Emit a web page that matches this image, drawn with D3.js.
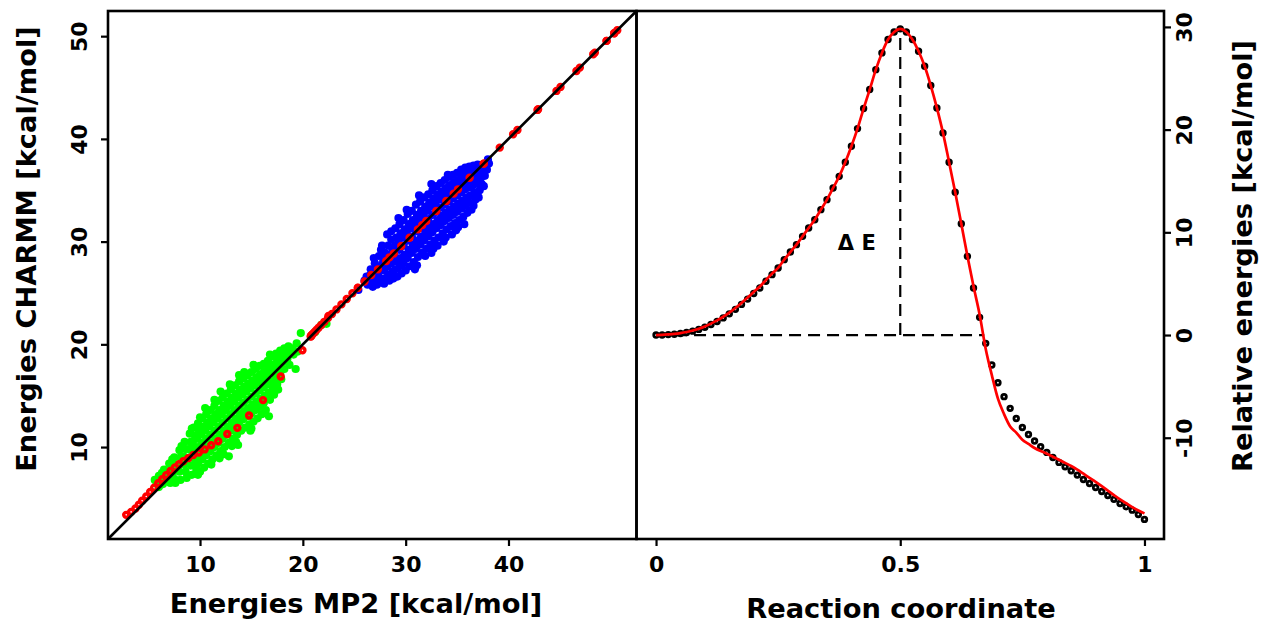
<!DOCTYPE html>
<html><head><meta charset="utf-8">
<script src="https://cdn.jsdelivr.net/npm/d3@7"></script>
<style>
html,body{margin:0;padding:0;background:#fff;}
text{font-family:"DejaVu Sans",sans-serif;font-weight:bold;fill:#000;}
</style></head><body>
<svg id="chart" width="1262" height="623"></svg>
<script>
// ---------------- data ----------------
const reactionCoord = [0,0.0125,0.025,0.0375,0.05,0.0625,0.075,0.0875,0.1,0.1125,0.125,0.1375,0.15,0.1625,0.175,0.1875,0.2,0.2125,0.225,0.2375,0.25,0.2625,0.275,0.2875,0.3,0.3125,0.325,0.3375,0.35,0.3625,0.375,0.3875,0.4,0.4125,0.425,0.4375,0.45,0.4625,0.475,0.4875,0.5,0.5125,0.525,0.5375,0.55,0.5625,0.575,0.5875,0.6,0.6125,0.625,0.6375,0.65,0.6625,0.675,0.6875,0.7,0.7125,0.725,0.7375,0.75,0.7625,0.775,0.7875,0.8,0.8125,0.825,0.8375,0.85,0.8625,0.875,0.8875,0.9,0.9125,0.925,0.9375,0.95,0.9625,0.975,0.9875,1];
// MP2 relative energies along the path (black dots)
const mp2Rel = [0,0.01,0.04,0.08,0.15,0.25,0.38,0.55,0.76,1.02,1.32,1.67,2.06,2.50,2.98,
 3.50,4.05,4.58,5.23,5.88,6.53,7.34,8.08,8.80,9.61,10.42,11.23,12.21,13.18,14.32,15.45,16.82,18.38,20.10,22.05,23.90,25.84,27.47,28.77,29.51,29.81,
 29.51,28.77,27.63,26.17,24.29,22.11,19.68,16.82,13.90,10.84,7.66,4.58,
 1.72,-0.81,-2.92,-4.64,-6.00,-7.14,-8.12,-9.00,-9.68,-10.32,-10.88,-11.43,-11.92,-12.40,-12.82,-13.21,-13.64,-14.06,-14.45,-14.84,-15.23,-15.62,-16.00,-16.40,-16.72,-17.05,-17.47,-17.95];
// CHARMM relative energies along the path (red curve)
const charmmRel = [0,0.02,0.06,0.11,0.19,0.30,0.44,0.62,0.84,1.11,1.42,1.78,2.18,2.63,3.12,
 3.65,4.20,4.72,5.35,5.98,
 6.53,7.34,8.08,8.80,9.61,10.42,11.23,12.21,13.18,14.32,15.45,16.82,18.38,20.10,22.05,23.90,25.84,27.47,28.77,29.51,29.81,29.51,28.77,27.63,26.17,24.29,22.11,19.68,16.82,13.90,10.84,
 7.70,4.75,2.00,-1.35,-3.90,-6.20,-7.70,-8.90,-9.50,-10.20,-10.60,-11.00,-11.30,-11.55,-11.85,-12.15,-12.45,-12.75,-13.10,-13.50,-13.90,-14.30,-14.72,-15.15,-15.58,-16.00,-16.38,-16.75,-17.08,-17.37];
// shift between relative and absolute energies (left panel)
const absoluteOffset = 20.77;

// green cloud: [MP2, CHARMM]
const greenPoints = [
[5.6,6.8],[5.8,6.4],[6.0,7.2],[6.1,6.6],[6.0,6.1],[6.5,7.8],[6.6,7.1],[6.4,6.4],[6.3,7.5],
[7.0,8.4],[7.1,7.7],[6.9,7.0],[7.1,6.5],[7.5,9.0],[7.6,8.3],[7.4,7.6],[7.5,6.9],[7.6,6.5],[7.3,8.8],
[8.0,9.7],[8.1,9.0],[7.9,8.3],[8.0,7.6],[8.1,6.8],[8.5,10.5],[8.6,9.8],[8.4,9.1],[8.5,8.3],[8.6,7.6],[8.7,7.0],[8.2,10.1],
[9.0,11.3],[9.1,10.5],[8.9,9.8],[9.0,9.0],[9.1,8.2],[9.2,7.3],[9.4,11.9],[9.5,11.1],[9.3,10.3],[9.4,9.6],[9.5,8.8],[9.6,8.0],[9.5,7.4],
[9.8,12.3],[9.9,11.6],[9.7,10.8],[9.8,10.0],[9.9,9.2],[9.8,8.4],[10.0,7.6],[9.8,7.3],[9.2,11.8],
[10.2,12.8],[10.3,12.0],[10.1,11.2],[10.2,10.4],[10.3,9.6],[10.2,8.8],[10.4,8.0],[10.0,12.9],
[10.6,13.2],[10.7,12.4],[10.5,11.6],[10.6,10.8],[10.7,10.0],[10.6,9.2],[10.8,8.4],[10.5,13.8],
[11.0,13.6],[11.1,12.8],[10.9,12.0],[11.0,11.2],[11.1,10.4],[11.0,9.6],[11.2,8.8],[11.1,8.3],
[11.4,14.0],[11.5,13.2],[11.3,12.4],[11.4,11.6],[11.5,10.8],[11.4,10.0],[11.6,9.2],[11.4,14.6],
[11.8,14.5],[11.9,13.6],[11.7,12.8],[11.8,12.0],[11.9,11.2],[11.8,10.4],[12.0,9.6],[11.9,8.9],
[12.2,14.8],[12.3,14.0],[12.1,13.2],[12.2,12.4],[12.3,11.6],[12.2,10.8],[12.4,10.0],[12.3,9.3],[12.0,15.4],
[12.6,15.2],[12.7,14.4],[12.5,13.6],[12.6,12.8],[12.7,12.0],[12.6,11.2],[12.8,10.4],[12.8,9.1],
[13.0,15.6],[13.1,14.8],[12.9,14.0],[13.0,13.2],[13.1,12.4],[13.0,11.6],[13.2,10.8],[13.1,10.1],[12.9,16.1],
[13.4,16.0],[13.5,15.2],[13.3,14.4],[13.4,13.6],[13.5,12.8],[13.4,12.0],[13.6,11.2],[13.5,10.5],
[13.8,16.4],[13.9,15.6],[13.7,14.8],[13.8,14.0],[13.9,13.2],[13.8,12.4],[14.0,11.6],[13.7,10.2],[13.8,17.0],
[14.2,16.7],[14.3,15.9],[14.1,15.1],[14.2,14.3],[14.3,13.5],[14.2,12.7],[14.4,11.9],[14.3,17.3],
[14.6,17.0],[14.7,16.2],[14.5,15.4],[14.6,14.6],[14.7,13.8],[14.6,13.0],[14.8,12.2],[14.9,11.6],
[15.0,17.3],[15.1,16.5],[14.9,15.7],[15.0,14.9],[15.1,14.1],[15.0,13.3],[15.2,12.5],[15.0,11.8],
[15.4,17.6],[15.5,16.8],[15.3,16.0],[15.4,15.2],[15.5,14.4],[15.4,13.6],[15.6,12.8],[15.2,18.0],
[15.8,17.9],[15.9,17.1],[15.7,16.3],[15.8,15.5],[15.9,14.7],[15.8,13.9],[16.0,13.2],
[16.2,18.1],[16.3,17.4],[16.1,16.6],[16.2,15.8],[16.3,15.0],[16.2,14.3],[16.4,13.6],
[16.6,18.4],[16.7,17.7],[16.5,16.9],[16.6,16.1],[16.7,15.3],[16.8,14.6],[16.7,13.0],
[17.0,18.8],[17.1,18.0],[16.9,17.2],[17.0,16.4],[17.1,15.7],[17.2,15.1],[16.8,19.0],
[17.4,19.1],[17.5,18.4],[17.3,17.6],[17.4,16.8],[17.5,16.1],[17.6,15.6],
[17.8,19.4],[17.9,18.7],[17.7,17.9],[17.8,17.2],[17.9,16.6],
[18.2,19.6],[18.3,19.0],[18.1,18.3],[18.2,17.6],[18.6,19.8],[18.7,19.2],[18.5,18.6],[18.7,18.0],
[19.0,19.6],[19.1,19.0],[19.3,17.6],[19.4,20.1],[19.5,19.3],[19.8,21.1],
[21.2,21.2],[21.8,21.9],[22.3,22.0]
];
// blue cloud: [MP2, CHARMM]
const bluePoints = [
[25.4,25.3],[26.2,26.6],[26.3,25.8],[26.0,26.2],[26.6,27.3],[26.7,26.1],[26.5,26.7],[26.8,25.6],
[27.0,27.9],[27.1,26.4],[27.0,27.1],[27.2,25.8],[26.9,28.4],[27.4,28.6],[27.5,27.6],[27.3,26.8],[27.4,26.0],[27.6,29.2],
[27.8,28.0],[27.9,27.2],[27.7,29.6],[27.8,26.4],[28.0,28.9],[27.9,25.9],
[28.2,30.7],[28.3,29.6],[28.1,28.5],[28.2,27.6],[28.3,26.8],[28.4,26.2],
[28.6,30.2],[28.7,29.3],[28.5,28.7],[28.6,27.9],[28.7,27.1],[28.8,26.4],[28.6,31.0],
[29.0,31.3],[29.1,30.4],[29.0,29.6],[28.9,28.8],[29.1,28.1],[29.0,27.3],[29.2,26.6],
[29.4,31.7],[29.5,30.8],[29.3,30.0],[29.4,29.2],[29.5,28.4],[29.4,27.6],[29.6,26.9],[29.3,32.3],
[29.8,32.1],[29.9,31.2],[29.7,30.4],[29.8,29.6],[29.9,28.7],[29.8,27.9],[30.0,27.2],
[30.2,32.7],[30.3,31.7],[30.1,30.9],[30.2,30.1],[30.3,29.2],[30.2,28.4],[30.4,27.6],[30.1,33.1],
[30.6,33.0],[30.7,32.1],[30.5,31.3],[30.6,30.5],[30.7,29.7],[30.6,28.9],[30.8,28.0],[30.9,27.3],
[31.0,33.6],[31.1,32.6],[30.9,31.8],[31.0,31.0],[31.1,30.1],[31.0,29.3],[31.2,28.5],[31.1,27.7],
[31.4,33.9],[31.5,33.0],[31.3,32.2],[31.4,31.4],[31.5,30.5],[31.4,29.7],[31.6,28.9],[31.3,34.5],
[31.8,34.3],[31.9,33.4],[31.7,32.6],[31.8,31.8],[31.9,31.0],[31.8,30.1],[32.0,29.3],[31.9,28.6],
[32.2,34.6],[32.3,33.8],[32.1,33.0],[32.2,32.2],[32.3,31.4],[32.2,30.5],[32.4,29.7],[32.5,28.9],
[32.6,35.0],[32.7,34.2],[32.5,33.4],[32.6,32.6],[32.7,31.7],[32.6,30.9],[32.8,30.1],[32.7,29.3],[32.5,35.6],
[33.0,35.4],[33.1,34.6],[32.9,33.7],[33.0,32.9],[33.1,32.1],[33.0,31.3],[33.2,30.4],[33.1,29.6],
[33.4,35.7],[33.5,34.9],[33.3,34.1],[33.4,33.3],[33.5,32.5],[33.4,31.6],[33.6,30.8],[33.7,30.0],
[33.8,36.0],[33.9,35.2],[33.7,34.4],[33.8,33.6],[33.9,32.8],[33.8,32.0],[34.0,31.2],[33.9,30.4],[34.1,36.5],
[34.2,36.3],[34.3,35.5],[34.1,34.7],[34.2,33.9],[34.3,33.1],[34.2,32.3],[34.4,31.5],[34.5,30.7],
[34.6,36.5],[34.7,35.8],[34.5,35.0],[34.6,34.2],[34.7,33.4],[34.6,32.6],[34.8,31.8],[34.9,31.1],
[35.0,36.7],[35.1,36.0],[34.9,35.3],[35.0,34.5],[35.1,33.7],[35.0,32.9],[35.2,32.1],[35.1,31.4],
[35.4,37.0],[35.5,36.3],[35.3,35.6],[35.4,34.8],[35.5,34.0],[35.4,33.2],[35.6,32.4],[35.7,31.7],
[35.8,37.2],[35.9,36.5],[35.7,35.8],[35.8,35.1],[35.9,34.3],[35.8,33.5],[36.0,32.8],
[36.2,37.3],[36.3,36.7],[36.1,36.0],[36.2,35.3],[36.3,34.5],[36.2,33.8],[36.4,33.1],
[36.6,37.4],[36.7,36.8],[36.5,36.2],[36.6,35.5],[36.7,34.8],[36.8,34.1],[36.6,33.5],
[37.0,37.5],[37.1,36.9],[36.9,36.4],[37.0,35.7],[37.2,35.0],[37.1,34.3],
[37.4,37.4],[37.5,36.8],[37.3,36.2],[37.4,35.6],[37.6,35.4],[37.8,37.6],[37.9,37.0],[37.7,36.4],[38.1,37.6],[38.0,38.0]
];

const leftTicksX = [10, 20, 30, 40];
const leftTicksY = [10, 20, 30, 40, 50];
const rightTicksX = [0, 0.5, 1];
const rightTickLabelsX = ["0", "0.5", "1"];
const rightTicksY = [-10, 0, 10, 20, 30];
const barrierTop = 29.81;      // peak of path
const barrierCross = 0.672;    // where CHARMM curve returns to 0
const labels = {
  leftX: "Energies MP2 [kcal/mol]",
  leftY: "Energies CHARMM [kcal/mol]",
  rightX: "Reaction coordinate",
  rightY: "Relative energies [kcal/mol]",
  delta: "\u0394 E"
};

// ---------------- drawing ----------------
const svg = d3.select("#chart");
const L = {x0: 108, x1: 636.5, y0: 11, y1: 539};
const R = {x0: 636.5, x1: 1164, y0: 11, y1: 539};

const xL = d3.scaleLinear().domain([1.05, 52.45]).range([L.x0, L.x1]);
const yL = d3.scaleLinear().domain([1.05, 52.45]).range([L.y1, L.y0]);
const xR = d3.scaleLinear().domain([-0.04, 1.04]).range([R.x0, R.x1]);
const yR = d3.scaleLinear().domain([-19.86, 31.55]).range([R.y1, R.y0]);

const TICK_FS = 22, TITLE_FS = 27.3;

// ---- left panel ----
const gL = svg.append("g");
const cloudR = 4.1;
gL.selectAll("circle.g").data(greenPoints).join("circle")
  .attr("cx", d => xL(d[0])).attr("cy", d => yL(d[1])).attr("r", cloudR)
  .attr("fill", "#00ff00");
gL.selectAll("circle.b").data(bluePoints).join("circle")
  .attr("cx", d => xL(d[0])).attr("cy", d => yL(d[1])).attr("r", cloudR)
  .attr("fill", "#0000ff");
const pathAbs = mp2Rel.map((m, i) => [m + absoluteOffset, charmmRel[i] + absoluteOffset]);
gL.selectAll("circle.r").data(pathAbs).join("circle")
  .attr("cx", d => xL(d[0])).attr("cy", d => yL(d[1])).attr("r", 2.5)
  .attr("fill", "none").attr("stroke", "#ff0000").attr("stroke-width", 3.4);
const dom = xL.domain();
gL.append("line")
  .attr("x1", xL(dom[0])).attr("y1", yL(dom[0]))
  .attr("x2", xL(dom[1])).attr("y2", yL(dom[1]))
  .attr("stroke", "#000").attr("stroke-width", 2.6);

// axes left
const axB = d3.axisBottom(xL).tickValues(leftTicksX).tickSize(7).tickPadding(10).tickSizeOuter(0);
svg.append("g").attr("transform", `translate(0,${L.y1})`).call(axB);
const axLf = d3.axisLeft(yL).tickValues(leftTicksY).tickSize(7).tickSizeOuter(0);
const gAxL = svg.append("g").attr("transform", `translate(${L.x0},0)`).call(axLf);
gAxL.selectAll("text").attr("x", null).attr("dy", null)
  .attr("text-anchor", "middle").attr("transform", "translate(-21,0) rotate(-90)");

// ---- right panel ----
const gR = svg.append("g");
const dashed = "12,7";
gR.append("line").attr("x1", xR(0)).attr("x2", xR(barrierCross)).attr("y1", yR(0)).attr("y2", yR(0))
  .attr("stroke", "#000").attr("stroke-width", 2.2).attr("stroke-dasharray", dashed);
gR.append("line").attr("x1", xR(0.5)).attr("x2", xR(0.5)).attr("y1", yR(0)).attr("y2", yR(barrierTop))
  .attr("stroke", "#000").attr("stroke-width", 2.2).attr("stroke-dasharray", dashed);
gR.selectAll("circle.k").data(reactionCoord).join("circle")
  .attr("cx", d => xR(d)).attr("cy", (d, i) => yR(mp2Rel[i])).attr("r", 2.3)
  .attr("fill", "none").attr("stroke", "#000").attr("stroke-width", 2.8);
const line = d3.line().x((d, i) => xR(reactionCoord[i])).y(d => yR(d)).curve(d3.curveMonotoneX);
gR.append("path").attr("d", line(charmmRel)).attr("fill", "none")
  .attr("stroke", "#ff0000").attr("stroke-width", 2.7);
gR.append("text").attr("x", xR(0.411)).attr("y", yR(8.3)).attr("text-anchor", "middle")
  .attr("font-size", 21).text(labels.delta);

const axBR = d3.axisBottom(xR).tickValues(rightTicksX).tickFormat((d, i) => rightTickLabelsX[i])
  .tickSize(7).tickPadding(10).tickSizeOuter(0);
svg.append("g").attr("transform", `translate(0,${R.y1})`).call(axBR);
const axRR = d3.axisRight(yR).tickValues(rightTicksY).tickFormat(d => String(d)).tickSize(7).tickSizeOuter(0);
const gAxRR = svg.append("g").attr("transform", `translate(${R.x1},0)`).call(axRR);
gAxRR.selectAll("text").attr("x", null).attr("dy", null)
  .attr("text-anchor", "middle").attr("transform", "translate(28,0) rotate(-90)");

// axis styling
svg.selectAll(".domain").remove();
svg.selectAll(".tick line").attr("stroke", "#000").attr("stroke-width", 2.2);
svg.selectAll(".tick text").attr("font-size", TICK_FS)
  .style("font-family", "'DejaVu Sans', sans-serif").style("font-weight", "bold").attr("fill", "#000");

// boxes
[L, R].forEach(p => {
  svg.append("rect").attr("x", p.x0).attr("y", p.y0).attr("width", p.x1 - p.x0).attr("height", p.y1 - p.y0)
    .attr("fill", "none").attr("stroke", "#000").attr("stroke-width", 2.6);
});

// titles
svg.append("text").attr("x", 356).attr("y", 613).attr("text-anchor", "middle")
  .attr("font-size", TITLE_FS).text(labels.leftX);
svg.append("text").attr("x", 901).attr("y", 618).attr("text-anchor", "middle")
  .attr("font-size", TITLE_FS).text(labels.rightX);
svg.append("text").attr("text-anchor", "middle").attr("font-size", TITLE_FS)
  .attr("transform", "translate(36,249) rotate(-90)").text(labels.leftY);
svg.append("text").attr("text-anchor", "middle").attr("font-size", TITLE_FS)
  .attr("transform", "translate(1252,256) rotate(-90)").text(labels.rightY);
</script>
</body></html>
